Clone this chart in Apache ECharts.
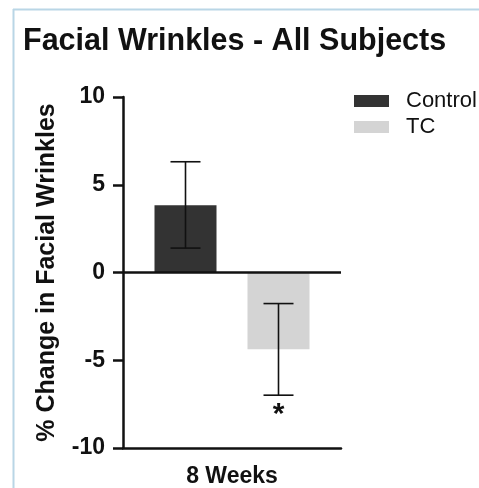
<!DOCTYPE html>
<html><head><meta charset="utf-8">
<script src="https://cdn.jsdelivr.net/npm/echarts@6/dist/echarts.min.js"></script>
<style>html,body{margin:0;padding:0;background:#fff}#c{width:479px;height:488px}</style>
</head><body><div id="c"></div>
<script>
const categories = ['8 Weeks'];
const groups = ['Control', 'TC'];
const meanValues = [3.83, -4.38];
const errLow = [1.39, -6.99];
const errHigh = [6.31, -1.77];
const sigMarks = ['', '*'];
const yTicks = [-10, -5, 0, 5, 10];
const colors = ['#333333', '#d4d4d4'];

const FONT = '"Liberation Sans", Arial, sans-serif';
const BAR_W = 62, GAP = 31;
const chart = echarts.init(document.getElementById('c'), null, {renderer: 'canvas'});

function errSeries(i) {
  const off = (i === 0 ? -1 : 1) * (BAR_W + GAP) / 2;
  return {
    type: 'custom', z: 5, silent: true,
    data: [[0, errLow[i], errHigh[i]]],
    renderItem: function (params, api) {
      const lo = api.coord([api.value(0), api.value(1)]);
      const hi = api.coord([api.value(0), api.value(2)]);
      const x = lo[0] + off, cw = 15;
      const style = {stroke: '#111', lineWidth: 1.6};
      const children = [
        {type: 'line', shape: {x1: x, y1: lo[1], x2: x, y2: hi[1]}, style},
        {type: 'line', shape: {x1: x - cw, y1: lo[1], x2: x + cw, y2: lo[1]}, style},
        {type: 'line', shape: {x1: x - cw, y1: hi[1], x2: x + cw, y2: hi[1]}, style}
      ];
      if (sigMarks[i]) {
        children.push({type: 'text', style: {text: sigMarks[i], x: x, y: Math.max(lo[1], hi[1]) + 5,
          align: 'center', verticalAlign: 'top', font: 'bold 30px ' + FONT, fill: '#111'}});
      }
      return {type: 'group', children};
    }
  };
}

chart.setOption({
  animation: false,
  backgroundColor: '#fff',
  title: {text: 'Facial Wrinkles - All Subjects', left: 18, top: 21,
    textStyle: {fontFamily: FONT, fontWeight: 'bold', fontSize: 30.5, color: '#111'}},
  legend: {orient: 'vertical', left: 349, top: 85, itemWidth: 35, itemHeight: 12, itemGap: 4,
    icon: 'rect', data: groups,
    textStyle: {fontFamily: FONT, fontSize: 22, color: '#111', padding: [0, 0, 0, 12]}},
  grid: {left: 123, right: 138, top: 97, bottom: 40, containLabel: false},
  xAxis: {type: 'category', data: categories,
    axisLine: {onZero: false, lineStyle: {color: '#111', width: 2.5}},
    axisTick: {show: false},
    axisLabel: {fontFamily: FONT, fontWeight: 'bold', fontSize: 23, color: '#111', margin: 17}},
  yAxis: {type: 'value', min: -10, max: 10, interval: 5,
    name: '% Change in Facial Wrinkles', nameLocation: 'middle', nameGap: 63, nameRotate: 90,
    nameTextStyle: {fontFamily: FONT, fontWeight: 'bold', fontSize: 25, color: '#111'},
    axisLine: {show: true, lineStyle: {color: '#111', width: 2.5}},
    axisTick: {show: true, length: 10, lineStyle: {color: '#111', width: 2.5}},
    splitLine: {show: false},
    axisLabel: {fontFamily: FONT, fontWeight: 'bold', fontSize: 23, color: '#111', margin: 18,
      customValues: yTicks}},
  series: [
    {name: groups[0], type: 'bar', data: [meanValues[0]], barWidth: BAR_W, barGap: '50%',
      itemStyle: {color: colors[0]},
      markLine: {silent: true, symbol: 'none', label: {show: false},
        lineStyle: {color: '#111', width: 2.5, type: 'solid'}, data: [{yAxis: 0}]}},
    {name: groups[1], type: 'bar', data: [meanValues[1]], barWidth: BAR_W, barGap: '50%',
      itemStyle: {color: colors[1]}},
    errSeries(0), errSeries(1)
  ],
  graphic: [
    {type: 'line', shape: {x1: 13.5, y1: 9, x2: 13.5, y2: 488}, style: {stroke: '#b9d6e6', lineWidth: 2}, silent: true},
    {type: 'line', shape: {x1: 13, y1: 9.5, x2: 479, y2: 9.5}, style: {stroke: '#b9d6e6', lineWidth: 2}, silent: true}
  ]
});
</script></body></html>
